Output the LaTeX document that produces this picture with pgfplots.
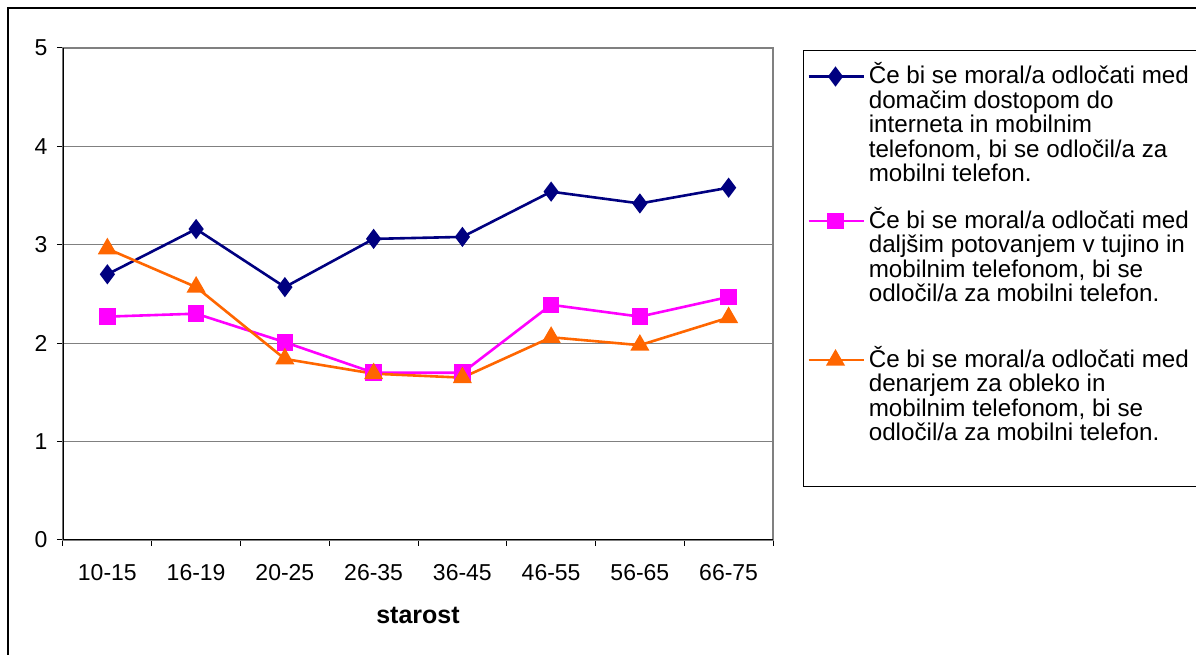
\documentclass[border=0pt]{standalone}
\usepackage{pgfplots}
\pgfplotsset{compat=1.18}
\usepackage{fontspec}
\setmainfont{Liberation Sans}

\definecolor{sNavy}{RGB}{0,0,128}
\definecolor{sMag}{RGB}{255,0,255}
\definecolor{sOra}{RGB}{255,102,0}
\definecolor{gridgray}{RGB}{128,128,128}

\newcommand{\lfont}{\fontsize{24.2bp}{24.5bp}\selectfont}

\begin{document}
\begin{tikzpicture}[x=1bp,y=1bp]
\useasboundingbox (-63,-115) rectangle (1133,540);
\clip (-63,-115) rectangle (1133,540);
% outer chart frame (right and bottom edges are cut off)
\draw[line width=1.3bp] (-55,-130) -- (-55,532) -- (1150,532);
% legend frame
\draw[line width=1bp] (1150,489) -- (740,489) -- (740,53) -- (1150,53);
\begin{axis}[
    at={(0,0)}, anchor=south west,
    scale only axis,
    width=710bp, height=492bp,
    xmin=0.5, xmax=8.5,
    ymin=0, ymax=5,
    xtick={0.5,1.5,...,8.5},
    x tick label as interval,
    xticklabels={10-15,16-19,20-25,26-35,36-45,46-55,56-65,66-75},
    ytick={0,1,...,5},
    tick pos=left,
    tick align=outside,
    major tick length=6bp,
    tick style={black, line width=1bp},
    ymajorgrids,
    grid style={gridgray, line width=1.3bp},
    axis line style={gridgray, line width=1.3bp},
    tick label style={font=\fontsize{23bp}{26bp}\selectfont},
    /pgf/number format/assume math mode=true,
    xticklabel style={yshift=-15bp},
    yticklabel style={xshift=-6bp},
    xlabel={\textbf{starost}},
    xlabel style={font=\fontsize{25bp}{28bp}\selectfont, yshift=-20bp},
    legend style={
        at={(rel axis cs:1.0479,0.9752)}, anchor=north west,
        draw=none, fill=none,
        inner sep=0pt,
        font=\lfont,
        cells={anchor=base west, inner sep=0pt},
        row sep=20bp,
        /tikz/every odd column/.append style={column sep=2bp},
    },
    legend image code/.code={%
        \draw[mark repeat=2, mark phase=2, #1]
            plot coordinates {(0bp,0bp) (27bp,0bp) (55bp,0bp)};},
]
\addplot[color=sNavy, line width=2.6bp, mark=diamond*, mark size=8bp,
         mark options={solid, fill=sNavy},
         legend image post style={yshift=105bp}] coordinates {
    (1,2.70) (2,3.16) (3,2.57) (4,3.06) (5,3.08) (6,3.54) (7,3.42) (8,3.58)
};
\addlegendentry{\parbox[b]{330bp}{Če bi se moral/a odločati med\\domačim dostopom do\\interneta in mobilnim\\telefonom, bi se odločil/a za\\mobilni telefon.}}

\addplot[color=sMag, line width=2.6bp, mark=square*, mark size=7bp,
         mark options={solid, fill=sMag},
         legend image post style={yshift=80.5bp}] coordinates {
    (1,2.27) (2,2.30) (3,2.01) (4,1.70) (5,1.70) (6,2.39) (7,2.27) (8,2.47)
};
\addlegendentry{\parbox[b]{330bp}{Če bi se moral/a odločati med\\daljšim potovanjem v tujino in\\mobilnim telefonom, bi se\\odločil/a za mobilni telefon.}}

\addplot[color=sOra, line width=2.6bp, mark=triangle*, mark size=8.5bp,
         mark options={solid, fill=sOra},
         legend image post style={yshift=80.5bp}] coordinates {
    (1,2.96) (2,2.57) (3,1.84) (4,1.69) (5,1.65) (6,2.06) (7,1.98) (8,2.26)
};
\addlegendentry{\parbox[b]{330bp}{\rule{0pt}{40bp}Če bi se moral/a odločati med\\denarjem za obleko in\\mobilnim telefonom, bi se\\odločil/a za mobilni telefon.}}

% black left and bottom axis lines
\draw[black, line width=1.5bp] (rel axis cs:0,1) -- (rel axis cs:0,0) -- (rel axis cs:1,0);
\end{axis}
\end{tikzpicture}
\end{document}
